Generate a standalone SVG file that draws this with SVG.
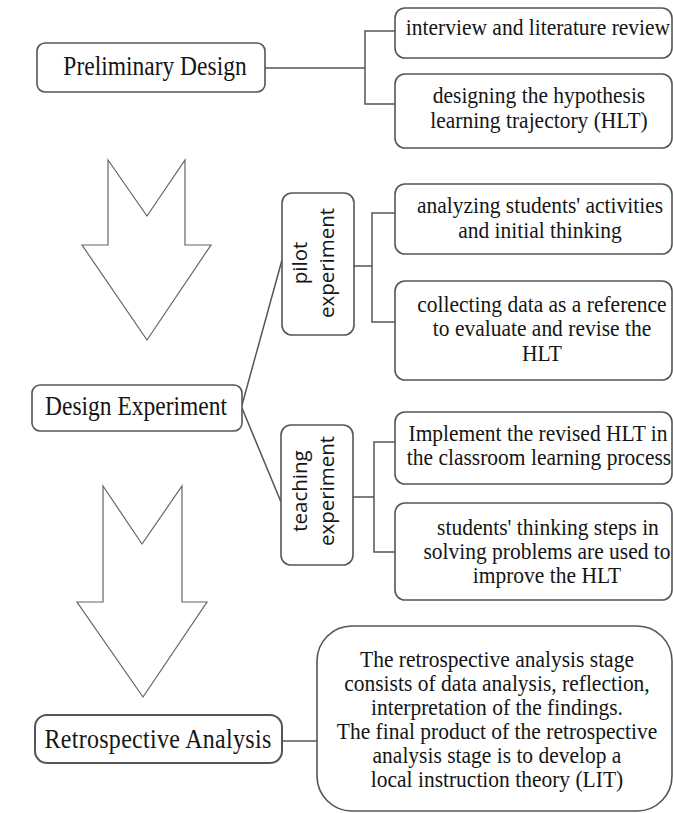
<svg xmlns="http://www.w3.org/2000/svg" width="673" height="813" viewBox="0 0 673 813">
<style>
.box{fill:#fff;stroke:#555;stroke-width:1.6}
.arrow{fill:#fff;stroke:#666;stroke-width:1.2;stroke-linejoin:miter}
.con{fill:none;stroke:#555;stroke-width:1.5}
.t{font-family:"Liberation Serif","Times New Roman",serif;font-size:21.5px;fill:#151515;text-anchor:middle}
.s{font-family:"Liberation Serif","Times New Roman",serif;font-size:23.5px;fill:#151515;text-anchor:middle}
.r{font-family:"Open Sans","DejaVu Sans",sans-serif;font-size:20.5px;fill:#151515;text-anchor:middle}
</style>
<rect width="673" height="813" fill="#fff"/>
<g id="arrows">
<polygon class="arrow" points="108,160 147,216 185,160 185,245 211,245 147,340 82,245 108,245"/>
<polygon class="arrow" points="103,486 142,544 182,486 182,602 207,602 143,697 77,602 103,602"/>
</g>
<g id="connectors">
<path class="con" d="M265 68 H365 M395 31 H365 V104 H395"/>
<path class="con" d="M354 266 H372 M395 213 H372 V322 H395"/>
<path class="con" d="M353 497 H374 M395 442 H374 V552 H395"/>
<path class="con" d="M242 405 L282 260 M242 408 L281 502"/>
<path class="con" d="M282 741 H317"/>
</g>
<g id="preliminary">
<rect class="box" x="37" y="43" width="228" height="49" rx="8"/>
<text class="s" x="155" y="75" transform="matrix(1 0 0 1.12 0 -9)">Preliminary Design</text>
</g>
<g id="interview">
<rect class="box" x="395" y="8" width="277" height="50" rx="10"/>
<text class="t" x="538" y="35" transform="matrix(1 0 0 1.12 0 -4.2)">interview and literature review</text>
</g>
<g id="hlt">
<rect class="box" x="395" y="74" width="277" height="74" rx="10"/>
<text class="t" x="539" y="103" transform="matrix(1 0 0 1.12 0 -12.36)">designing the hypothesis</text>
<text class="t" x="539" y="128" transform="matrix(1 0 0 1.12 0 -15.36)">learning trajectory (HLT)</text>
</g>
<g id="pilot">
<rect class="box" x="282" y="193" width="72" height="142" rx="10"/>
<text class="r" transform="translate(318,263) rotate(-90)"><tspan x="0" y="-11">pilot</tspan><tspan x="0" y="16">experiment</tspan></text>
</g>
<g id="analyzing">
<rect class="box" x="395" y="184" width="277" height="70" rx="10"/>
<text class="t" x="540" y="213" transform="matrix(1 0 0 1.12 0 -25.56)">analyzing students' activities</text>
<text class="t" x="540" y="238" transform="matrix(1 0 0 1.12 0 -28.56)">and initial thinking</text>
</g>
<g id="collecting">
<rect class="box" x="395" y="281" width="277" height="99" rx="10"/>
<text class="t" x="542" y="312" transform="matrix(1 0 0 1.12 0 -37.44)">collecting data as a reference</text>
<text class="t" x="542" y="336" transform="matrix(1 0 0 1.12 0 -40.32)">to evaluate and revise the</text>
<text class="t" x="542" y="361" transform="matrix(1 0 0 1.12 0 -43.32)">HLT</text>
</g>
<g id="design">
<rect class="box" x="32" y="385" width="210" height="46" rx="8"/>
<text class="s" x="136" y="415" transform="matrix(1 0 0 1.12 0 -49.8)">Design Experiment</text>
</g>
<g id="teaching">
<rect class="box" x="281" y="425" width="72" height="140" rx="10"/>
<text class="r" transform="translate(317,491) rotate(-90)"><tspan x="0" y="-10">teaching</tspan><tspan x="0" y="17">experiment</tspan></text>
</g>
<g id="implement">
<rect class="box" x="395" y="412" width="277" height="72" rx="10"/>
<text class="t" x="538" y="441" transform="matrix(1 0 0 1.12 0 -52.92)">Implement the revised HLT in</text>
<text class="t" x="539" y="465" transform="matrix(1 0 0 1.12 0 -55.8)">the classroom learning process</text>
</g>
<g id="students">
<rect class="box" x="395" y="503" width="277" height="97" rx="10"/>
<text class="t" x="548" y="535" transform="matrix(1 0 0 1.12 0 -64.2)">students' thinking steps in</text>
<text class="t" x="547" y="559" transform="matrix(1 0 0 1.12 0 -67.08)">solving problems are used to</text>
<text class="t" x="547" y="583" transform="matrix(1 0 0 1.12 0 -69.96)">improve the HLT</text>
</g>
<g id="retrospective">
<rect class="box" x="35" y="715" width="247" height="48" rx="12" style="stroke-width:2"/>
<text class="s" x="158" y="748" transform="matrix(1 0 0 1.12 0 -89.76)" style="font-size:24px;letter-spacing:0.3px">Retrospective Analysis</text>
</g>
<g id="lit">
<rect class="box" x="317" y="626" width="355" height="185" rx="35"/>
<text class="t" x="497" y="667" transform="matrix(1 0 0 1.12 0 -80.04)">The retrospective analysis stage</text>
<text class="t" x="497" y="691" transform="matrix(1 0 0 1.12 0 -82.92)">consists of data analysis, reflection,</text>
<text class="t" x="497" y="715" transform="matrix(1 0 0 1.12 0 -85.8)">interpretation of the findings.</text>
<text class="t" x="497" y="739" transform="matrix(1 0 0 1.12 0 -88.68)">The final product of the retrospective</text>
<text class="t" x="497" y="763" transform="matrix(1 0 0 1.12 0 -91.56)">analysis stage is to develop a</text>
<text class="t" x="497" y="787" transform="matrix(1 0 0 1.12 0 -94.44)">local instruction theory (LIT)</text>
</g>
</svg>
